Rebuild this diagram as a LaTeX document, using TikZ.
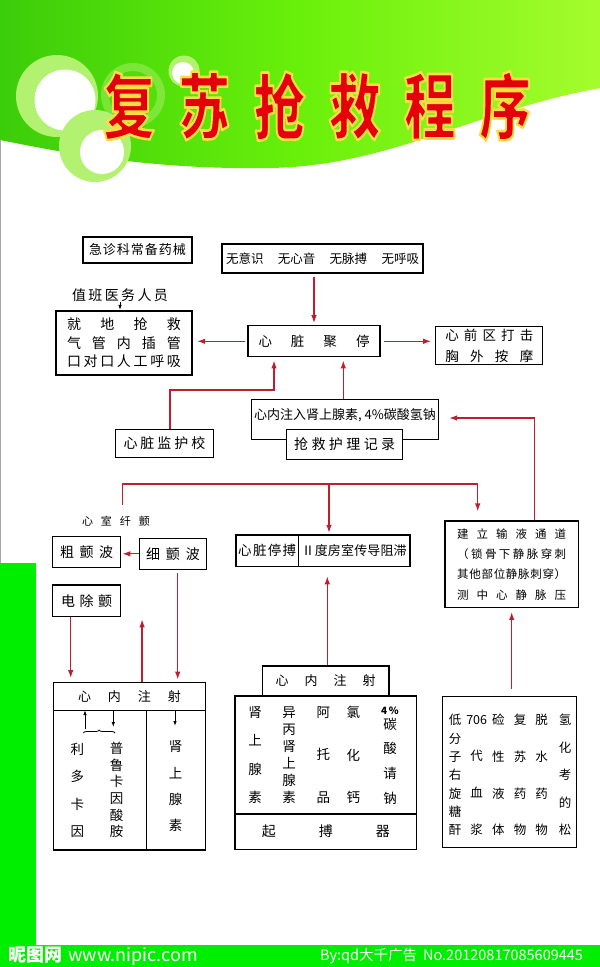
\documentclass[tikz,border=0pt]{standalone}
\usepackage{fontspec}
\setmainfont{Noto Sans CJK SC}
\usepackage{graphicx}
\usepackage{tikz}
\usetikzlibrary{positioning, arrows.meta, decorations.pathreplacing}

\definecolor{linered}{RGB}{190,30,45}
\definecolor{titlered}{RGB}{228,0,10}
\definecolor{greenA}{RGB}{60,205,10}
\definecolor{greenB}{RGB}{105,240,10}
\definecolor{greenC}{RGB}{165,252,45}
\definecolor{ringgreen}{RGB}{178,242,112}
\definecolor{bargreen}{RGB}{0,238,0}

\newcommand{\fsz}[2]{\fontsize{#1}{#2}\selectfont}
\newcommand{\spaced}[2]{\makebox[#1][s]{\spreadchars#2\relax}}
\def\spreadchars#1{#1\spreadnext}
\def\spreadnext#1{\ifx#1\relax\else\hfill#1\expandafter\spreadnext\fi}
% red letters with a yellow rim
\newcommand{\rimtext}[1]{\special{pdf:code q 1 0.86 0.27 RG 2.6 w 1 j 2 Tr}#1\special{pdf:code Q}}

\tikzstyle{box} = [rectangle, draw=black, line width=1.2pt, inner sep=0pt, fill=white, text=black]
\tikzstyle{arrow} = [draw=linered, line width=1.3pt, ->, >={Latex[length=8pt, width=5.5pt]}]
\tikzstyle{wire} = [draw=linered, line width=1.3pt]
\tikzstyle{tick} = [draw=black, line width=0.9pt, ->, >={Latex[length=5pt, width=3.5pt]}]
\tikzstyle{col} = [inner sep=0pt, align=center]
\tikzstyle{titlechar} = [inner sep=0pt, text=titlered, font=\fsz{72}{72}\bfseries]
\tikzstyle{wmtext} = [inner sep=0pt, text=white, anchor=west]

\begin{document}
\begin{tikzpicture}[x=1pt, y=-1pt]
\useasboundingbox (0,0) rectangle (600,967);

% header band and rings
\shade[left color=greenA, right color=greenC, middle color=greenB] (0,0) -- (600,0) -- (600,88) .. controls (470,112) and (390,166) .. (270,168) .. controls (150,170) and (60,152) .. (0,140) -- cycle;
\fill[ringgreen, opacity=0.45, even odd rule] (133,95) circle (32pt) (133,95) circle (24pt);
\fill[ringgreen] (57,96) circle (41pt);
\fill[white] (65,100) circle (30.5pt);
\fill[ringgreen] (95,146) circle (36pt);
\fill[white] (102,152) circle (22pt);
\fill[ringgreen] (184,71) circle (15.5pt);
\fill[white] (183,73) circle (11pt);

\draw[gray!70, line width=1pt] (0.5,140) -- (0.5,563);
\fill[bargreen] (0,563) rectangle (36,967);
\fill[bargreen] (0,945) rectangle (600,967);

% title
\foreach \ch [count=\i] in {复,苏,抢,救,程,序}
  \node[titlechar] (t\i) at ({129+75.2*(\i-1)},106) {\scalebox{0.72}[1]{\rimtext{\ch}}};

% top part
\node (jizhen) [box, minimum width=109pt, minimum height=26pt, font=\fsz{13}{15}] at (137.5,250) {\spaced{97pt}{急诊科常备药械}};
\node (wuyishi) [box, minimum width=201pt, minimum height=29pt, font=\fsz{12.5}{15}] at (322.5,258.5) {\makebox[193pt][s]{无意识\hfill 无心音\hfill 无脉搏\hfill 无呼吸}};
\node (zhiban) [inner sep=0pt, font=\fsz{14}{16}] at (120,295) {\spaced{96pt}{值班医务人员}};
\node (jiudi) [box, minimum width=136pt, minimum height=64pt, align=center, font=\fsz{14}{18.5}] at (124,343) {\spaced{114pt}{就地抢救}\\\spaced{114pt}{气管内插管}\\\spaced{114pt}{口对口人工呼吸}};
\node (xinzang) [box, minimum width=132pt, minimum height=31pt, font=\fsz{13.5}{16}] at (314,341.3) {\spaced{111pt}{心脏聚停}};
\node (xinqian) [box, minimum width=107pt, minimum height=38pt, align=center, font=\fsz{13.5}{20.6}] at (489.3,345.8) {\spaced{88pt}{心前区打击}\\\spaced{88pt}{胸外按摩}};
\node (jianhu) [box, minimum width=98pt, minimum height=28pt, font=\fsz{14}{16}] at (164.5,443.3) {\spaced{82pt}{心脏监护校}};
\node (zhuru) [box, minimum width=187pt, minimum height=40pt, text height=11pt, text depth=10pt, font=\fsz{13}{15}] at (345,419.3) {心内注入肾上腺素, 4\%碳酸氢钠};
\node (jilu) [box, minimum width=116pt, minimum height=30pt, font=\fsz{14}{16}] at (344.7,444.2) {\spaced{101pt}{抢救护理记录}};

% middle part
\node (vf) [inner sep=0pt, font=\fsz{11}{13}] at (116,521) {\spaced{68pt}{心室纤颤}};
\node (cuchan) [box, minimum width=68pt, minimum height=30.6pt, font=\fsz{14}{16}] at (86.7,552) {\spaced{53pt}{粗颤波}};
\node (xichan) [box, minimum width=67.4pt, minimum height=31pt, font=\fsz{14}{16}] at (173,553.8) {\spaced{54pt}{细颤波}};
\node (dianchu) [box, minimum width=68pt, minimum height=31.7pt, font=\fsz{14}{16}] at (86.7,600.8) {\spaced{51pt}{电除颤}};
\node (tingbo) [box, minimum width=62.3pt, minimum height=31.7pt, font=\fsz{13.5}{16}] at (267.2,550.85) {\spaced{58pt}{心脏停搏}};
\node (zhizhi) [box, minimum width=111.7pt, minimum height=31.7pt, font=\fsz{13}{15}, right=-1.2pt of tingbo] {\spaced{105pt}{Ⅱ度房室传导阻滞}};
\node (shuye) [box, minimum width=133.3pt, minimum height=86.3pt, align=center, font=\fsz{11.5}{20.3}] at (511.7,564.2) {\spaced{109pt}{建立输液通道}\\\spaced{109pt}{（锁骨下静脉穿刺}\\\spaced{109pt}{其他部位静脉刺穿）}\\\spaced{109pt}{测中心静脉压}};

% left injection box
\node (lzs) [box, minimum width=152.4pt, minimum height=28pt, font=\fsz{13}{15}] at (129.5,696.7) {\spaced{103pt}{心内注射}};
\node (lzsbody) [box, minimum width=152.4pt, minimum height=139.3pt, below=-1.2pt of lzs] {};
\coordinate (divtop) at (146.7,710.7);
\coordinate (divbot) at (146.7,850);
\draw[line width=1.2pt] (divtop) -- (divbot);
\node (lido) [col, font=\fsz{13.5}{27.5}] at (77.3,790.4) {利\\多\\卡\\因};
\node (procain) [col, font=\fsz{13.5}{16.7}] at (116.7,790) {普\\鲁\\卡\\因\\酸\\胺};
\node (adrenL) [col, font=\fsz{13.5}{26.3}] at (175.7,786.2) {肾\\上\\腺\\素};
\coordinate (brl) at (83.3,733);
\coordinate (brr) at (115,733);
\coordinate (upfoot) at (85,729);
\coordinate (dnfoot) at (113.3,727);
\coordinate (dnfoot2) at (175,726);
\draw[decorate, decoration={brace, amplitude=3pt}, line width=0.8pt] (brl) -- (brr);
\draw[tick] (upfoot) -- (upfoot |- lzsbody.north);
\draw[tick] (dnfoot |- lzsbody.north) -- (dnfoot);
\draw[tick] (dnfoot2 |- lzsbody.north) -- (dnfoot2);

% middle injection box
\node (mzs) [box, minimum width=126.7pt, minimum height=30pt, font=\fsz{13}{15}] at (325.7,681) {\spaced{100pt}{心内注射}};
\node (mzsbody) [box, minimum width=181.7pt, minimum height=118pt] at (325.85,755) {};
\node (qbq) [box, minimum width=181.7pt, minimum height=35.3pt, font=\fsz{14}{16}, below=-1.2pt of mzsbody] {\spaced{128pt}{起搏器}};
\node (adrenM) [col, font=\fsz{13.5}{28.2}] at (255,755) {肾\\上\\腺\\素};
\node (isopro) [col, font=\fsz{13.5}{16.9}] at (289,755) {异\\丙\\肾\\上\\腺\\素};
\node (atro) [col, font=\fsz{13.5}{42.3}] at (323.3,755) {阿\\托\\品};
\node (calcium) [col, font=\fsz{13.5}{42.3}] at (353.3,755) {氯\\化\\钙};
\node (pct) [col, font=\fsz{10}{12}\bfseries] at (390,710.5) {4\,\%};
\node (soda) [col, font=\fsz{13.5}{24.7}] at (390,761) {碳\\酸\\请\\钠};

% right drug box
\node (rb) [box, minimum width=134pt, minimum height=151pt] at (509.7,772.2) {};
\node (dextran) [col, font=\fsz{12.5}{18.33}] at (455,775) {低\\分\\子\\右\\旋\\糖\\酐};
\node (plasma) [col, font=\fsz{12.5}{36.7}] at (476.7,775) {706\\代\\血\\浆};
\node (alkali) [col, font=\fsz{12.5}{36.7}] at (498.3,775) {硷\\性\\液\\体};
\node (revive) [col, font=\fsz{12.5}{36.7}] at (520,775) {复\\苏\\药\\物};
\node (dehyd) [col, font=\fsz{12.5}{36.7}] at (541.7,775) {脱\\水\\药\\物};
\node (hydro) [col, font=\fsz{12.5}{27.5}] at (565,775) {氢\\化\\考\\的\\松};

% connectors
\draw[tick, shorten >=0.5pt] (zhiban.south) -- (zhiban.south |- jiudi.north);
\draw[arrow, shorten <=3pt, shorten >=2pt] (xinzang.north |- wuyishi.south) -- (xinzang.north);
\draw[arrow, shorten <=2pt, shorten >=4.5pt] (xinzang.west) -- (xinzang.west -| jiudi.east);
\draw[arrow, shorten <=3pt, shorten >=4pt] (xinzang.east) -- (xinzang.east -| xinqian.west);
\coordinate (monbend) at (274,390);
\draw[arrow, shorten >=3pt] ([xshift=5.5pt]jianhu.north) |- (monbend) -- (monbend |- xinzang.south);
\draw[arrow, shorten >=3pt] ([xshift=-1.7pt]zhuru.north) -- ([xshift=-1.7pt]zhuru.north |- xinzang.south);
\draw[arrow, shorten >=10pt] ([xshift=22.6pt]shuye.north) |- ([yshift=1.3pt]zhuru.east);

\coordinate (busL) at (122.7,505);
\coordinate (busM) at (329,484);
\coordinate (busR) at (477.7,484);
\draw[wire] (busL) |- (busR);
\draw[arrow, shorten >=9pt] (busR) -- (busR |- shuye.north);
\draw[arrow, shorten >=1.5pt] (busM) -- (busM |- zhizhi.north);

\draw[arrow, shorten >=1pt] (xichan.west) -- (xichan.west -| cuchan.east);
\draw[arrow, shorten <=3.5pt, shorten >=2.5pt] ([xshift=4.7pt]xichan.south) -- ([xshift=4.7pt]xichan.south |- lzs.north);
\draw[arrow, shorten >=4pt] ([xshift=-16pt]dianchu.south) -- ([xshift=-16pt]dianchu.south |- lzs.north);
\draw[arrow, shorten >=2pt] ([xshift=12.6pt]lzs.north) -- ([xshift=12.6pt]lzs.north |- dianchu.south);
\draw[arrow, shorten >=9pt] ([xshift=1.6pt]mzs.north) -- ([xshift=1.6pt]mzs.north |- zhizhi.south);
\draw[arrow, shorten <=7pt, shorten >=4pt] ([xshift=2pt]rb.north) -- ([xshift=2pt]rb.north |- shuye.south);

% watermark
\node (nipic) [wmtext, font=\fsz{18}{20}\bfseries] at (8,956) {昵图网\hspace{6pt}{\mdseries www.nipic.com}};
\node (byline) [wmtext, font=\fsz{14.5}{16}] at (320,956) {By:qd大千广告\hspace{6pt}No.20120817085609445};

\end{tikzpicture}
\end{document}
